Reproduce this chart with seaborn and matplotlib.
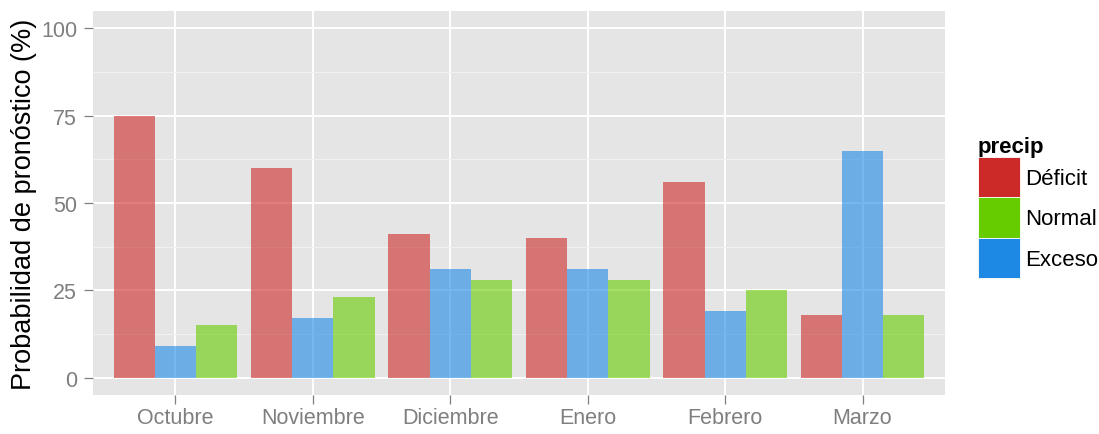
import matplotlib
matplotlib.use("Agg")
import matplotlib.pyplot as plt
import matplotlib.patches as mpatches
from matplotlib.ticker import MultipleLocator
import seaborn as sns
import pandas as pd

months = ["Octubre", "Noviembre", "Diciembre", "Enero", "Febrero", "Marzo"]
deficit = [75, 60, 41, 40, 56, 18]
exceso = [9, 17, 31, 31, 19, 65]
normal = [15, 23, 28, 28, 25, 18]
bar_order = ["Déficit", "Exceso", "Normal"]
legend_order = ["Déficit", "Normal", "Exceso"]
colors = {"Déficit": "#CC2929", "Normal": "#66CC00", "Exceso": "#1E88E5"}

rows = []
for cat, vals in zip(["Déficit", "Exceso", "Normal"], [deficit, exceso, normal]):
    for m, v in zip(months, vals):
        rows.append({"mes": m, "precip": cat, "prob": v})
df = pd.DataFrame(rows)

sns.set_theme(style="darkgrid", rc={
    "axes.facecolor": "#E5E5E5",
    "grid.color": "white",
    "axes.edgecolor": "none",
})
plt.rcParams["font.family"] = ["Liberation Sans", "DejaVu Sans"]

fig = plt.figure(figsize=(10.99, 4.35), dpi=100)
ax = fig.add_axes([93 / 1099, 39 / 435, 852 / 1099, 384 / 435])

sns.barplot(data=df, x="mes", y="prob", hue="precip", order=months,
            hue_order=bar_order, palette=colors, alpha=0.6, width=0.9,
            saturation=1, errorbar=None, legend=False, ax=ax, zorder=3,
            linewidth=0)

ax.set_xlim(-0.6, 5.6)
ax.set_ylim(-5, 105)
ax.set_yticks([0, 25, 50, 75, 100])
ax.yaxis.set_minor_locator(MultipleLocator(12.5))
ax.grid(True, which="major", color="white", linewidth=1.4, zorder=0)
ax.grid(True, which="minor", axis="y", color="#F2F2F2", linewidth=0.7, zorder=0)
ax.set_axisbelow(True)
ax.tick_params(axis="both", which="major", length=6.5, width=0.9, color="#7F7F7F",
               labelcolor="#7F7F7F", labelsize=15.5, direction="out",
               bottom=True, left=True)
ax.tick_params(axis="x", which="major", pad=2)
ax.tick_params(axis="y", which="major", pad=5)
ax.tick_params(axis="y", which="minor", length=0)
ax.set_xlabel("")
ax.set_ylabel("Probabilidad de pronóstico (%)", fontsize=19.5, color="black", labelpad=3)
for s in ax.spines.values():
    s.set_visible(False)

handles = [mpatches.Patch(facecolor=colors[k], edgecolor="white", linewidth=0.6, label=k)
           for k in legend_order]
leg = fig.legend(handles=handles, title="precip", loc="upper left",
                 bbox_to_anchor=(978 / 1099, 1 - 137 / 435), frameon=False,
                 fontsize=16, title_fontsize=16, handlelength=1.9, handleheight=2.42,
                 labelspacing=0, handletextpad=0.22, borderpad=0, borderaxespad=0)
leg.get_title().set_fontweight("bold")
leg.get_title().set_color("black")
for t in leg.get_texts():
    t.set_color("black")
leg._legend_box.align = "left"

fig.savefig("out.png", dpi=100, facecolor="white")
